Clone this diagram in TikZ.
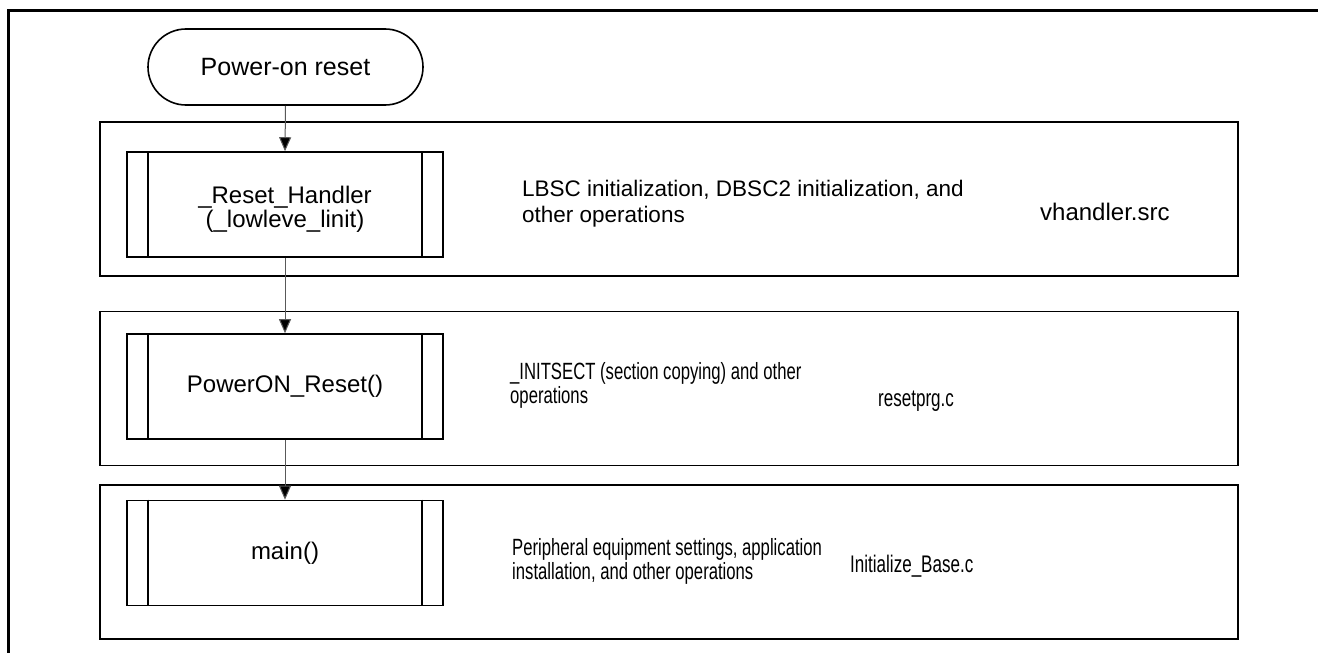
\documentclass[tikz,border=0pt]{standalone}
\usepackage{fontspec}
\setmainfont{Liberation Sans}
\newfontfamily\narrowfont[FakeStretch=0.71]{Liberation Sans}
\usetikzlibrary{arrows.meta,calc}
\tikzset{
  grp/.style={draw=black, line width=1.8pt, fill=none, minimum width=1138pt, minimum height=154pt, inner sep=0pt},
  subbox/.style={draw=black, line width=1.6pt, minimum width=316pt, minimum height=105pt, inner sep=0pt, align=center, font=\fontsize{24}{23.5}\selectfont},
  startnode/.style={draw=black, line width=1.6pt, rounded corners=38pt, minimum width=275pt, minimum height=76pt, inner sep=0pt, font=\fontsize{25}{26}\selectfont},
  desc/.style={inner sep=0pt, align=left, anchor=west},
  desca/.style={desc, font=\fontsize{22.5}{26}\selectfont},
  descb/.style={desc, font=\narrowfont\fontsize{23.5}{24}\selectfont},
  filea/.style={inner sep=0pt, anchor=base west, font=\fontsize{24}{26}\selectfont},
  fileb/.style={inner sep=0pt, anchor=base west, font=\narrowfont\fontsize{24}{26}\selectfont},
  flow/.style={draw=black!65, line width=1pt, -{Triangle[length=14pt,width=12pt,fill=black]}},
  frame/.style={draw=black, line width=3pt}
}
\begin{document}
\begin{tikzpicture}[x=1pt,y=-1pt]
\useasboundingbox (0,0) rectangle (1318,653);
% outer frame (open on right and bottom)
\coordinate (fbl) at (8,653);
\coordinate (ftl) at (8,10);
\coordinate (ftr) at (1318,10);
\draw[frame] (fbl) -- (ftl) -- (ftr);
% group boxes
\node[grp] (g1) at (669,199) {};
\node[grp] (g2) at (669,388.5) {};
\node[grp] (g3) at (669,562) {};
% start
\node[startnode] (start) at (285.5,67) {Power-on reset};
% subroutine boxes
\node[subbox] (b1) at (285,204.5) {};
\node[inner sep=0pt, align=center, font=\fontsize{24}{23.5}\selectfont] (b1t) at (285,209.5) {\_Reset\_Handler\\(\_lowleve\_linit)};
\node[subbox] (b2) at (285,386.5) {PowerON\_Reset()};
\node[subbox] (b3) at (285,553) {main()};
\foreach \b in {b1,b2,b3}{
  \draw[line width=1.6pt] ([xshift=22pt]\b.north west) -- ([xshift=22pt]\b.south west);
  \draw[line width=1.6pt] ([xshift=-22pt]\b.north east) -- ([xshift=-22pt]\b.south east);
}
% descriptions
\node[desca] (d1) at (522,204) {LBSC initialization, DBSC2 initialization, and\\other operations};
\node[descb] (d2) at (510,385) {\_INITSECT (section copying) and other\\operations};
\node[descb] (d3) at (512,561) {Peripheral equipment settings, application\\installation, and other operations};
% file names
\node[filea] (f1) at (1040,220) {vhandler.src};
\node[fileb] (f2) at (878,406) {resetprg.c};
\node[fileb] (f3) at (850,572) {Initialize\_Base.c};
% connectors
\draw[flow] (start.south) -- (b1.north);
\draw[flow] (b1.south) -- (b2.north);
\draw[flow] (b2.south) -- (b3.north);
\end{tikzpicture}
\end{document}
